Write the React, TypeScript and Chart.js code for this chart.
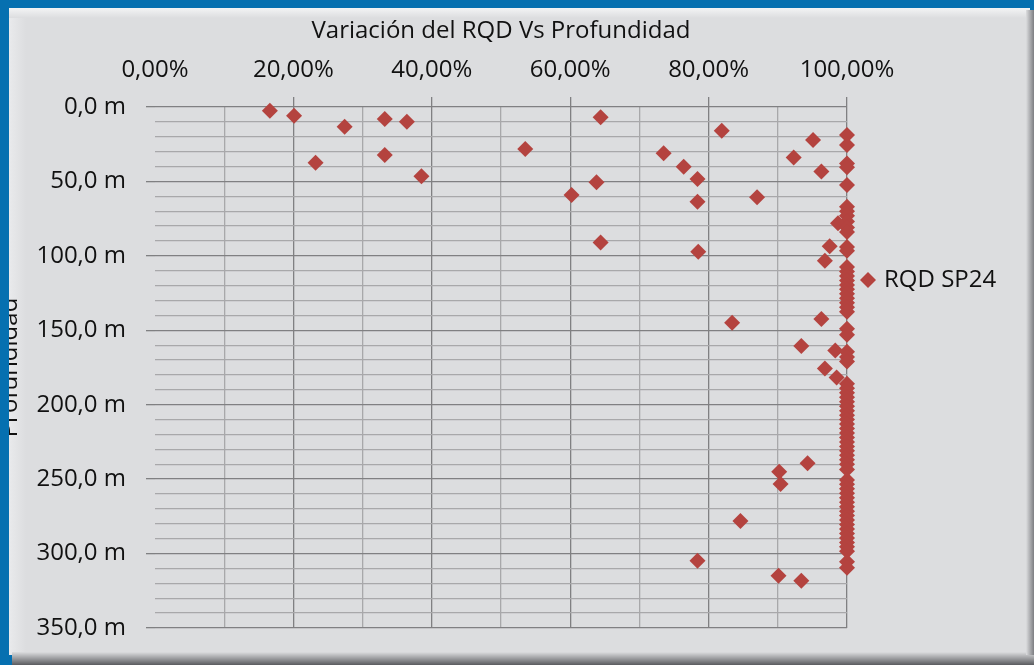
import React, { useEffect, useRef } from 'react';
import { Chart, registerables } from 'chart.js';

Chart.register(...registerables);

const CHART_TITLE = 'Variación del RQD Vs Profundidad';
const Y_TITLE = 'Profundidad';
const SERIES_LABEL = 'RQD SP24';

// Depth (m) of each RQD sample
const depthM = [
  2.5, 5.8, 6.9, 8.1, 9.9, 13.2, 15.9, 18.8, 22.2, 25.5,
  28.2, 31.1, 32.2, 34.0, 37.4, 38.0, 40.1, 40.5, 43.4, 46.6,
  48.4, 50.6, 52.4, 59.1, 60.7, 63.6, 67, 70, 73, 77,
  78.1, 81, 84, 91.1, 93.5, 94, 96.5, 97.2, 103.3, 107.5,
  110.5, 113.5, 116.5, 119.5, 122.5, 125.5, 128.5, 131.5, 134.5, 137.5,
  142.5, 145.0, 149, 153, 160.5, 163.5, 164.5, 168, 171, 175.6,
  181.7, 186, 189, 192, 195, 198, 201, 204, 207, 210,
  213, 216, 219, 222, 225, 228, 231, 234, 237, 239.4,
  240, 243.5, 245.0, 250.5, 253.3, 253.5, 256.5, 259.5, 262.5, 265.5,
  268.5, 271.5, 274.5, 277.5, 278.1, 280.5, 283.5, 286.5, 289.5, 292.5,
  295.5, 298.5, 304.8, 305.5, 309.5, 314.9, 318.2,
];

// RQD (%) of each sample, same order as depthM
const rqdPct = [
  16.6, 20.1, 64.4, 33.2, 36.4, 27.4, 81.9, 100, 95.1, 100,
  53.5, 73.5, 33.2, 92.3, 23.2, 100, 76.4, 100, 96.3, 38.5,
  78.4, 63.8, 100, 60.2, 87.0, 78.4, 100, 100, 100, 100,
  98.7, 100, 100, 64.4, 97.5, 100, 100, 78.5, 96.8, 100,
  100, 100, 100, 100, 100, 100, 100, 100, 100, 100,
  96.3, 83.4, 100, 100, 93.4, 98.3, 100, 100, 100, 96.8,
  98.5, 100, 100, 100, 100, 100, 100, 100, 100, 100,
  100, 100, 100, 100, 100, 100, 100, 100, 100, 94.3,
  100, 100, 90.2, 100, 90.4, 100, 100, 100, 100, 100,
  100, 100, 100, 100, 84.6, 100, 100, 100, 100, 100,
  100, 100, 78.4, 100, 100, 90.1, 93.4,
];

// Axis ranges / tick steps
const xRange = [0, 100];
const xStep = 10;
const xLabelEvery = 20;
const yRange = [0, 350];
const yStep = 10;
const yLabelEvery = 50;

const W = 1034;
const H = 665;
const FONT = "'Open Sans', sans-serif";
const TEXT = '#111111';
const BLUE = 'rgb(6,112,176)';
const PANEL = 'rgb(220,221,223)';
const MAJOR = 'rgb(128,128,130)';
const MINOR = 'rgb(168,168,170)';
const MARK = 'rgb(180,67,63)';
const CLEAR = 'rgba(0,0,0,0)';
const MARK_R = 8;

const fmtPct = (v: number) => v.toFixed(2).replace('.', ',') + '%';
const fmtM = (v: number) => v.toFixed(1).replace('.', ',') + ' m';

const frame = {
  id: 'frame',
  beforeDraw(chart: any) {
    const ctx = chart.ctx;
    ctx.save();
    ctx.fillStyle = BLUE;
    ctx.fillRect(0, 0, W, H);
    ctx.fillStyle = PANEL;
    ctx.fillRect(9, 8, 1021, 647);
    let g = ctx.createLinearGradient(0, 8, 0, 18);
    g.addColorStop(0, 'rgb(243,244,245)');
    g.addColorStop(1, PANEL);
    ctx.fillStyle = g;
    ctx.fillRect(9, 8, 1021, 10);
    g = ctx.createLinearGradient(9, 0, 26, 0);
    g.addColorStop(0, 'rgb(233,234,236)');
    g.addColorStop(1, PANEL);
    ctx.fillStyle = g;
    ctx.fillRect(9, 18, 17, 637);
    g = ctx.createLinearGradient(0, 652, 0, 665);
    g.addColorStop(0, PANEL);
    g.addColorStop(1, 'rgb(90,91,95)');
    ctx.fillStyle = g;
    ctx.fillRect(12, 652, W - 12, 13);
    g = ctx.createLinearGradient(1026, 0, 1034, 0);
    g.addColorStop(0, PANEL);
    g.addColorStop(1, 'rgb(125,126,130)');
    ctx.fillStyle = g;
    ctx.fillRect(1026, 10, 8, 645);
    ctx.restore();
  },
  afterDraw(chart: any) {
    const ctx = chart.ctx;
    ctx.save();
    // blue frame covers the clipped axis title
    ctx.fillStyle = BLUE;
    ctx.fillRect(0, 0, 9, H);
    // legend
    const ds = chart.data.datasets[0];
    const cx = 868;
    const cy = 280;
    const r = MARK_R;
    ctx.fillStyle = ds.backgroundColor;
    ctx.beginPath();
    ctx.moveTo(cx, cy - r);
    ctx.lineTo(cx + r, cy);
    ctx.lineTo(cx, cy + r);
    ctx.lineTo(cx - r, cy);
    ctx.closePath();
    ctx.fill();
    ctx.fillStyle = TEXT;
    ctx.font = `24px ${FONT}`;
    ctx.textAlign = 'left';
    ctx.textBaseline = 'middle';
    ctx.fillText(ds.label, 884, cy);
    ctx.restore();
  },
};

export default function App() {
  const ref = useRef<HTMLCanvasElement>(null);
  useEffect(() => {
    document.body.style.margin = '0';
    const points = depthM.map((d, i) => ({ x: rqdPct[i], y: d }));
    const chart = new Chart(ref.current as HTMLCanvasElement, {
      type: 'scatter',
      data: {
        datasets: [
          {
            label: SERIES_LABEL,
            data: points,
            pointStyle: 'rectRot',
            pointRadius: MARK_R,
            pointHoverRadius: MARK_R,
            borderWidth: 0,
            backgroundColor: MARK,
            borderColor: MARK,
            clip: false,
          } as any,
        ],
      },
      options: {
        responsive: false,
        animation: false,
        events: [],
        layout: { padding: { left: 0, top: 0, right: 187, bottom: 37 } },
        plugins: {
          legend: { display: false },
          title: { display: false },
          tooltip: { enabled: false },
        },
        scales: {
          x: {
            type: 'linear',
            position: 'top',
            min: xRange[0],
            max: xRange[1],
            afterFit: (s: any) => {
              s.height = 107;
            },
            ticks: {
              stepSize: xStep,
              autoSkip: false,
              maxRotation: 0,
              padding: 12,
              color: TEXT,
              font: { family: FONT, size: 24 },
              callback: (v: any) => {
                const n = Math.round(Number(v));
                return n % xLabelEvery === 0 ? fmtPct(n) : '';
              },
            },
            grid: {
              lineWidth: 1.3,
              tickLength: 10,
              color: (c: any) => {
                const n = Math.round(c.tick.value);
                if (n === 0) return CLEAR;
                return n % xLabelEvery === 0 ? MAJOR : MINOR;
              },
              tickColor: (c: any) => {
                const n = Math.round(c.tick.value);
                return n !== 0 && n % xLabelEvery === 0 ? MAJOR : CLEAR;
              },
            },
            border: { display: false },
            title: {
              display: true,
              text: CHART_TITLE,
              color: TEXT,
              font: { family: FONT, size: 24 },
              padding: { top: 17, bottom: 0 },
            },
          },
          y: {
            type: 'linear',
            position: 'left',
            reverse: true,
            min: yRange[0],
            max: yRange[1],
            afterFit: (s: any) => {
              s.width = 155;
            },
            ticks: {
              stepSize: yStep,
              autoSkip: false,
              padding: 20,
              color: TEXT,
              font: { family: FONT, size: 24 },
              callback: (v: any) => {
                const n = Math.round(Number(v));
                return n % yLabelEvery === 0 ? fmtM(n) : '';
              },
            },
            grid: {
              lineWidth: 1.3,
              tickLength: 9,
              color: (c: any) => {
                const n = Math.round(c.tick.value);
                return n % yLabelEvery === 0 ? MAJOR : MINOR;
              },
              tickColor: (c: any) => {
                const n = Math.round(c.tick.value);
                return n % yLabelEvery === 0 ? MAJOR : CLEAR;
              },
            },
            border: { display: false },
            title: {
              display: true,
              text: Y_TITLE,
              color: TEXT,
              font: { family: FONT, size: 24 },
              padding: { top: -4, bottom: 0 },
            },
          },
        },
      },
      plugins: [frame],
    });
    return () => chart.destroy();
  }, []);
  return (
    <div style={{ width: W, height: H }}>
      <canvas ref={ref} width={W} height={H} style={{ display: 'block' }} />
    </div>
  );
}
